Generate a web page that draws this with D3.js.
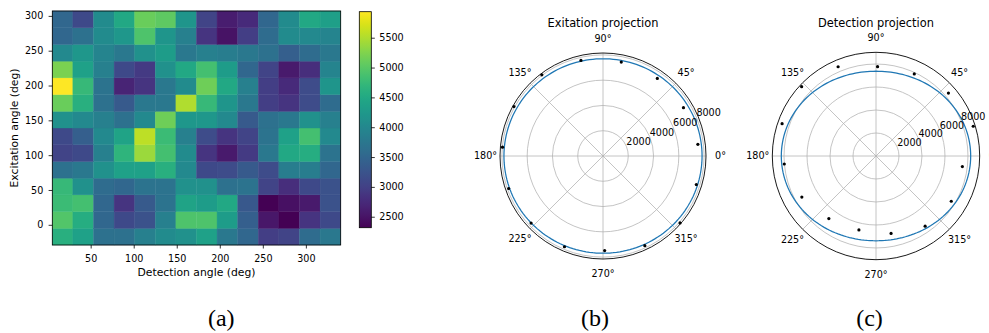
<!DOCTYPE html>
<html>
<head>
<meta charset="utf-8">
<script src="https://cdn.jsdelivr.net/npm/d3@7"></script>
<style>
  html, body { margin: 0; padding: 0; background: #fff; overflow: hidden; }
  svg { display: block; font-family: "DejaVu Sans", sans-serif; }
</style>
</head>
<body>
<svg id="fig" width="989" height="333"></svg>
<script>
// ---- (a) intensity map: excitation angle (rows) x detection angle (columns) ----
const detectionAngles = [17.4, 41.3, 65.3, 89.2, 113.1, 137.1, 161.0, 184.9, 208.8, 232.8, 256.7, 280.6, 304.6, 328.5];
const excitationAngles = [-17, 7, 31, 55, 79, 103, 127, 151, 175, 199, 223, 247, 271, 295];
// one row per excitation angle (ascending), one value per detection angle
const intensity = [
  [4597, 4379, 3655, 3655, 3873, 4054, 4126, 4379, 3764, 3511, 2968, 3040, 3583, 3764],
  [4959, 4560, 3511, 3112, 3221, 3873, 4922, 4922, 4307, 3402, 2533, 2316, 2859, 3112],
  [4778, 4850, 3511, 2859, 3330, 3692, 4416, 4307, 4488, 3293, 2330, 2461, 2569, 3221],
  [4741, 4126, 3583, 3511, 3692, 3692, 4126, 4126, 3655, 3692, 3040, 2787, 3112, 3221],
  [3655, 3764, 4126, 4379, 4379, 4597, 4017, 3112, 3149, 3330, 3149, 3836, 3836, 3511],
  [3040, 3112, 3873, 4669, 5393, 4850, 4054, 2859, 2569, 2931, 3764, 4488, 4560, 3692],
  [3112, 3402, 4017, 4416, 5574, 4778, 3873, 3149, 2859, 3040, 3692, 4379, 4850, 4017],
  [4126, 4017, 3873, 3655, 4017, 5140, 4235, 4235, 4017, 3330, 3655, 3764, 4126, 3873],
  [5103, 4597, 3655, 3330, 3764, 3764, 5502, 4741, 4198, 3764, 2968, 2859, 3149, 3583],
  [5936, 4741, 3692, 2678, 2859, 3764, 4054, 5140, 4488, 3873, 2968, 2750, 3149, 4198],
  [5212, 4379, 3873, 3112, 2931, 4126, 4488, 4850, 4307, 3511, 3040, 2569, 2787, 3945],
  [4017, 4235, 3945, 3764, 4126, 4307, 3764, 3873, 3836, 3764, 3655, 3402, 3583, 3764],
  [3511, 3655, 4054, 4235, 4922, 4198, 3873, 2859, 2497, 2968, 3583, 4054, 4017, 3945],
  [3511, 3112, 4054, 4488, 5103, 5031, 4198, 3040, 2606, 2750, 3511, 4054, 4488, 4343]
];
const heatXTicks = [50, 100, 150, 200, 250, 300];
const heatYTicks = [0, 50, 100, 150, 200, 250, 300];
const colorbarTicks = [2500, 3000, 3500, 4000, 4500, 5000, 5500];

// ---- (b) excitation projection ----
const excProjAngles = [7, 31, 55, 79, 103, 127, 151, 175, 199, 223, 247, 271, 295, 319, 343];
const excProjValues = [7563, 7428, 7494, 7573, 7762, 8043, 8059, 7983, 7896, 7781, 7801, 7484, 7833, 8075, 7723];
// ---- (c) detection projection ----
const detProjAngles = [17, 41, 65, 89, 113, 137, 161, 185, 209, 233, 257, 281, 305, 329, 353];
const detProjValues = [8845, 8349, 7876, 7772, 8434, 8845, 8639, 8007, 7375, 6815, 6600, 6864, 7450, 7639, 7569];

const radialTicks = [2000, 4000, 6000, 8000];
const thetaTicks = [0, 45, 90, 135, 180, 225, 270, 315];
const excRMax = 8150;
const detRMax = 9020;

const captions = ["(a)", "(b)", "(c)"];

// ---------------------------------------------------------------------------
const svg = d3.select("#fig");
const TICK_FS = 9.6;
const LABEL_FS = 10.8;
const TITLE_FS = 11.4;

function styleAxis(g) {
  g.select(".domain").remove();
  g.selectAll(".tick line").attr("stroke", "#000").attr("stroke-width", 0.8);
  g.selectAll(".tick text")
    .attr("fill", "#000")
    .style("font-size", TICK_FS + "px")
    .style("font-family", '"DejaVu Sans", sans-serif');
}

// ---------------- heat map ----------------
const hm = { left: 52.3, right: 340.7, top: 11, bottom: 245 };
const nx = detectionAngles.length, ny = excitationAngles.length;
const xStep = (detectionAngles[nx - 1] - detectionAngles[0]) / (nx - 1);
const yStep = (excitationAngles[ny - 1] - excitationAngles[0]) / (ny - 1);

const xScale = d3.scaleLinear()
  .domain([detectionAngles[0] - xStep / 2, detectionAngles[nx - 1] + xStep / 2])
  .range([hm.left, hm.right]);
const yScale = d3.scaleLinear()
  .domain([excitationAngles[0] - yStep / 2, excitationAngles[ny - 1] + yStep / 2])
  .range([hm.bottom, hm.top]);

const allValues = intensity.flat();
const color = d3.scaleSequential(d3.interpolateViridis).domain(d3.extent(allValues));

const cells = [];
intensity.forEach((row, i) => row.forEach((v, j) => {
  cells.push({ exc: excitationAngles[i], det: detectionAngles[j], v });
}));

svg.append("g").selectAll("rect")
  .data(cells)
  .join("rect")
  .attr("x", d => xScale(d.det - xStep / 2))
  .attr("y", d => yScale(d.exc + yStep / 2))
  .attr("width", d => xScale(d.det + xStep / 2) - xScale(d.det - xStep / 2))
  .attr("height", d => yScale(d.exc - yStep / 2) - yScale(d.exc + yStep / 2))
  .attr("fill", d => color(d.v))
  .attr("stroke", d => color(d.v))
  .attr("stroke-width", 0.4);

svg.append("g")
  .attr("transform", `translate(0,${hm.bottom})`)
  .call(d3.axisBottom(xScale).tickValues(heatXTicks).tickSize(3.5).tickPadding(7).tickFormat(d3.format("d")))
  .call(styleAxis);

svg.append("g")
  .attr("transform", `translate(${hm.left},0)`)
  .call(d3.axisLeft(yScale).tickValues(heatYTicks).tickSize(3.7).tickPadding(5.3).tickFormat(d3.format("d")))
  .call(styleAxis);

svg.append("rect")
  .attr("x", hm.left).attr("y", hm.top)
  .attr("width", hm.right - hm.left).attr("height", hm.bottom - hm.top)
  .attr("fill", "none").attr("stroke", "#000").attr("stroke-width", 0.8);

svg.append("text")
  .attr("x", (hm.left + hm.right) / 2).attr("y", 275.5)
  .attr("text-anchor", "middle")
  .style("font-size", LABEL_FS + "px")
  .text("Detection angle (deg)");

svg.append("text")
  .attr("transform", `translate(17.6,${(hm.top + hm.bottom) / 2}) rotate(-90)`)
  .attr("text-anchor", "middle")
  .style("font-size", LABEL_FS + "px")
  .text("Excitation angle (deg)");

// ---------------- colour bar ----------------
const cb = { left: 359.3, right: 371.3, top: 11.7, bottom: 227.7 };
const cScale = d3.scaleLinear().domain(color.domain()).range([cb.bottom, cb.top]);

const defs = svg.append("defs");
const grad = defs.append("linearGradient")
  .attr("id", "viridisBar")
  .attr("x1", 0).attr("y1", 1).attr("x2", 0).attr("y2", 0);
grad.selectAll("stop")
  .data(d3.range(0, 1.0001, 0.02))
  .join("stop")
  .attr("offset", d => d)
  .attr("stop-color", d => d3.interpolateViridis(d));

svg.append("rect")
  .attr("x", cb.left).attr("y", cb.top)
  .attr("width", cb.right - cb.left).attr("height", cb.bottom - cb.top)
  .attr("fill", "url(#viridisBar)")
  .attr("stroke", "#000").attr("stroke-width", 0.8);

svg.append("g")
  .attr("transform", `translate(${cb.right},0)`)
  .call(d3.axisRight(cScale).tickValues(colorbarTicks).tickSize(3.5).tickPadding(4.5).tickFormat(d3.format("d")))
  .call(styleAxis);

// ---------------- polar panels ----------------
const deg = Math.PI / 180;

// least-squares fit r(θ) = A + B·cos 2θ to the projection points
function fitCos2(angles, values) {
  const n = angles.length;
  const c = angles.map(a => Math.cos(2 * a * deg));
  const mc = d3.mean(c), mv = d3.mean(values);
  let sxy = 0, sxx = 0;
  for (let i = 0; i < n; i++) {
    sxy += (c[i] - mc) * (values[i] - mv);
    sxx += (c[i] - mc) * (c[i] - mc);
  }
  const B = sxy / sxx;
  const A = mv - B * mc;
  return th => A + B * Math.cos(2 * th * deg);
}

function drawPolar(cx, cy, R, rmax, angles, values, title) {
  const g = svg.append("g").attr("transform", `translate(${cx},${cy})`);
  const rs = d3.scaleLinear().domain([0, rmax]).range([0, R]);
  const px = (th, r) => rs(r) * Math.cos(th * deg);
  const py = (th, r) => -rs(r) * Math.sin(th * deg);

  // grid circles
  g.selectAll("circle.grid")
    .data(radialTicks)
    .join("circle")
    .attr("class", "grid")
    .attr("r", d => rs(d))
    .attr("fill", "none").attr("stroke", "#b0b0b0").attr("stroke-width", 0.75);

  // spokes
  g.selectAll("line.spoke")
    .data(thetaTicks)
    .join("line")
    .attr("class", "spoke")
    .attr("x1", 0).attr("y1", 0)
    .attr("x2", d => px(d, rmax)).attr("y2", d => py(d, rmax))
    .attr("stroke", "#b0b0b0").attr("stroke-width", 0.75);

  // fitted curve
  const f = fitCos2(angles, values);
  const curve = d3.range(0, 360, 2).map(th => [th, f(th)]);
  g.append("path")
    .datum(curve)
    .attr("d", d3.lineRadial()
      .angle(d => (90 - d[0]) * deg)
      .radius(d => rs(d[1]))
      .curve(d3.curveLinearClosed))
    .attr("fill", "none").attr("stroke", "#1f77b4").attr("stroke-width", 1.25);

  // measured points
  g.selectAll("circle.pt")
    .data(angles.map((a, i) => [a, values[i]]))
    .join("circle")
    .attr("class", "pt")
    .attr("cx", d => px(d[0], d[1]))
    .attr("cy", d => py(d[0], d[1]))
    .attr("r", 1.6)
    .attr("fill", "#000");

  // outer frame
  g.append("circle").attr("r", R)
    .attr("fill", "none").attr("stroke", "#000").attr("stroke-width", 0.9);

  // angle labels
  g.selectAll("text.theta")
    .data(thetaTicks)
    .join("text")
    .attr("class", "theta")
    .attr("x", d => (R + 14.5) * Math.cos(d * deg))
    .attr("y", d => -(R + 14.5) * Math.sin(d * deg))
    .attr("dy", "0.35em")
    .attr("text-anchor", "middle")
    .style("font-size", TICK_FS + "px")
    .text(d => d + "°");

  // radial labels along 22.5°
  g.selectAll("text.rlab")
    .data(radialTicks)
    .join("text")
    .attr("class", "rlab")
    .attr("x", d => px(22.5, d))
    .attr("y", d => py(22.5, d) - 1)
    .attr("text-anchor", "start")
    .style("font-size", TICK_FS + "px")
    .text(d => d);

  svg.append("text")
    .attr("x", cx).attr("y", 27)
    .attr("text-anchor", "middle")
    .style("font-size", TITLE_FS + "px")
    .text(title);
}

drawPolar(603, 156, 103, excRMax, excProjAngles, excProjValues, "Exitation projection");
drawPolar(876, 156, 103.7, detRMax, detProjAngles, detProjValues, "Detection projection");

// ---------------- sub-figure captions ----------------
const captionX = [221.3, 595, 869.5];
svg.selectAll("text.caption")
  .data(captions)
  .join("text")
  .attr("class", "caption")
  .attr("x", (d, i) => captionX[i])
  .attr("y", 325.5)
  .attr("text-anchor", "middle")
  .style("font-family", '"Liberation Serif", serif')
  .style("font-size", "24px")
  .text(d => d);
</script>
</body>
</html>
